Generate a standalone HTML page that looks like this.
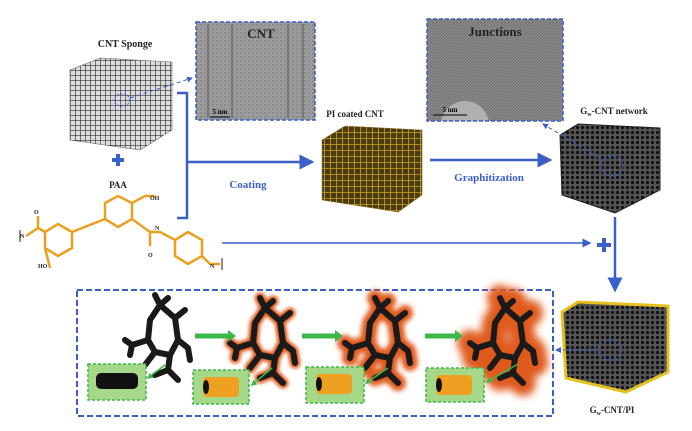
<!DOCTYPE html>
<html><head><style>
html,body{margin:0;padding:0;background:#fff;}
svg{display:block;}
text{font-family:"Liberation Serif",serif;font-weight:bold;}
</style></head><body>
<svg width="692" height="431" viewBox="0 0 692 431" xmlns="http://www.w3.org/2000/svg">
<defs>
<pattern id="gridK" width="5" height="5" patternUnits="userSpaceOnUse"><rect width="5" height="5" fill="#ddd"/><path d="M0 0H5M0 0V5" stroke="#333" stroke-width="1.3"/></pattern>
<pattern id="gridY" width="6" height="6" patternUnits="userSpaceOnUse"><rect width="6" height="6" fill="#4a3c10"/><path d="M0 0H6M0 0V6" stroke="#c9a22a" stroke-width="1.6"/></pattern>
<pattern id="gridD" width="5" height="5" patternUnits="userSpaceOnUse"><rect width="5" height="5" fill="#555"/><circle cx="2.5" cy="2.5" r="1.6" fill="#111"/></pattern>
<pattern id="tem" width="4" height="4" patternUnits="userSpaceOnUse"><rect width="4" height="4" fill="#9a9a9a"/><rect width="2" height="2" fill="#8c8c8c"/></pattern>
<pattern id="temJ" width="3" height="3" patternUnits="userSpaceOnUse"><rect width="3" height="3" fill="#8e8e8e"/><path d="M0 3L3 0" stroke="#6e6e6e" stroke-width="1"/></pattern>
<clipPath id="jclip"><rect x="427" y="19" width="136" height="102"/></clipPath>
<marker id="ah" markerWidth="6" markerHeight="6" refX="5" refY="3" orient="auto"><path d="M0 0L6 3L0 6z" fill="#3a5fc8"/></marker>
<marker id="ahg" markerWidth="4" markerHeight="4" refX="3" refY="2" orient="auto"><path d="M0 0L4 2L0 4z" fill="#3cb84a"/></marker>
<filter id="bl1" x="-1" y="-1" width="3" height="3"><feGaussianBlur stdDeviation="1.5"/></filter>
<filter id="bl2" x="-1" y="-1" width="3" height="3"><feGaussianBlur stdDeviation="2.5"/></filter>
<filter id="bl3" x="-1" y="-1" width="3" height="3"><feGaussianBlur stdDeviation="4"/></filter>
<g id="blob" fill="none" stroke-linecap="round" stroke-linejoin="round">
<path d="M0 -35 L-10 -20 L-12 0 L-5 12 L10 15 L18 0 L15 -22 L0 -35"/>
<path d="M-12 0 L-28 5 L-35 0 M-28 5 L-30 15"/>
<path d="M10 15 L8 30 L18 40 M8 30 L-5 35"/>
<path d="M15 -22 L25 -30 M0 -35 L-5 -45 M0 -35 L8 -42"/>
<path d="M18 0 L28 8 L30 20 M-5 12 L-15 25"/>
</g>
<g id="cyl"><rect x="0" y="0" width="36" height="20" rx="4" fill="#f0a020"/><ellipse cx="3" cy="10" rx="3" ry="7" fill="#111"/></g>
</defs>

<text x="125" y="47" font-size="10" text-anchor="middle" fill="#222">CNT Sponge</text>
<polygon points="70,70 100,58 172,62 172,130 140,150 70,140" fill="url(#gridK)" stroke="#666" stroke-width="0.6"/>
<ellipse cx="122" cy="100" rx="8" ry="6" fill="none" stroke="#3a5fc8" stroke-dasharray="2,1.5"/>
<line x1="130" y1="98" x2="192" y2="78" stroke="#3a5fc8" stroke-dasharray="4,3" marker-end="url(#ah)"/>
<path d="M112 160H124M118 154V166" stroke="#3a5fc8" stroke-width="4"/>
<text x="118" y="188" font-size="9" text-anchor="middle" fill="#222">PAA</text>

<rect x="196" y="22" width="119" height="98" fill="url(#tem)" stroke="#3a5fc8" stroke-width="1.5" stroke-dasharray="4,2"/>
<path d="M208 24V118M232 24V118M288 24V118M303 24V118" stroke="#777" stroke-width="2"/>
<text x="261" y="38" font-size="13" text-anchor="middle" fill="#222">CNT</text>
<line x1="210" y1="117" x2="230" y2="117" stroke="#000"/><text x="220" y="114" font-size="7" text-anchor="middle">5 nm</text>

<rect x="427" y="19" width="136" height="102" fill="url(#temJ)"/>
<circle cx="465" cy="125" r="24" fill="#b0b0b0" clip-path="url(#jclip)"/>
<rect x="427" y="19" width="136" height="102" fill="none" stroke="#3a5fc8" stroke-width="1.5" stroke-dasharray="4,2"/>
<text x="495" y="36" font-size="13" text-anchor="middle" fill="#222">Junctions</text>
<line x1="433" y1="115" x2="467" y2="115" stroke="#000"/><text x="450" y="112" font-size="7" text-anchor="middle">5 nm</text>

<path d="M177 93H187V218H177" fill="none" stroke="#3a5fc8" stroke-width="2.5"/>
<line x1="187" y1="162" x2="312" y2="162" stroke="#3a5fc8" stroke-width="2.5" marker-end="url(#ah)"/>
<text x="248" y="188" font-size="11" text-anchor="middle" fill="#3a5fc8">Coating</text>

<text x="355" y="117" font-size="9" text-anchor="middle" fill="#222">PI coated CNT</text>
<polygon points="322,140 345,126 422,130 422,195 398,212 322,200" fill="url(#gridY)" stroke="#8a7020" stroke-width="0.6"/>

<line x1="430" y1="160" x2="550" y2="160" stroke="#3a5fc8" stroke-width="2.5" marker-end="url(#ah)"/>
<text x="489" y="181" font-size="11" text-anchor="middle" fill="#3a5fc8">Graphitization</text>

<text x="614" y="114" font-size="9" text-anchor="middle" fill="#222">G<tspan font-size="6" dy="2">w</tspan><tspan dy="-2">-CNT network</tspan></text>
<polygon points="560,135 578,124 660,128 660,190 615,213 562,195" fill="url(#gridD)" stroke="#222"/>
<ellipse cx="612" cy="166" rx="11" ry="10" fill="none" stroke="#3a5fc8" stroke-dasharray="3,2"/>
<line x1="600" y1="158" x2="543" y2="124" stroke="#3a5fc8" stroke-dasharray="4,3" marker-end="url(#ah)"/>

<line x1="615" y1="217" x2="615" y2="290" stroke="#3a5fc8" stroke-width="2.5" marker-end="url(#ah)"/>
<line x1="222" y1="243" x2="590" y2="243" stroke="#3a5fc8" stroke-width="1.5" marker-end="url(#ah)"/>
<path d="M597 245H611M604 238V252" stroke="#3a5fc8" stroke-width="4"/>

<polygon points="562,312 578,302 668,306 668,372 626,392 566,378" fill="url(#gridD)" stroke="#e6c020" stroke-width="3"/>
<ellipse cx="610" cy="350" rx="12" ry="10" fill="none" stroke="#3a5fc8" stroke-dasharray="3,2"/>
<line x1="596" y1="350" x2="556" y2="350" stroke="#3a5fc8" stroke-dasharray="3,2" marker-end="url(#ah)"/>
<text x="612" y="413" font-size="9" text-anchor="middle" fill="#222">G<tspan font-size="6" dy="2">w</tspan><tspan dy="-2">-CNT/PI</tspan></text>

<g fill="none" stroke="#e8a020" stroke-width="2.5">
<polygon points="45,232 58,224 72,232 72,248 58,256 45,248"/>
<polygon points="105,203 118,196 132,203 132,219 118,227 105,219"/>
<polygon points="175,240 188,232 202,240 202,256 188,264 175,256"/>
<path d="M72 232L105 219M45 232L38 228L26 236M45 248L50 268M132 203L145 196L155 196M132 219L150 232L150 246M150 232L160 232L175 240M202 256L210 264L220 264M38 228L38 216"/>
</g>
<g font-size="6" fill="#222" font-family="Liberation Serif"><text x="150" y="200">OH</text><text x="155" y="230">N</text><text x="148" y="257">O</text><text x="34" y="214">O</text><text x="38" y="268">HO</text><text x="20" y="238">N</text><text x="210" y="268">N</text></g>
<path d="M20 230V242M222 258V270" stroke="#222"/>

<rect x="77" y="290" width="476" height="126" fill="none" stroke="#3a5fc8" stroke-width="2" stroke-dasharray="6,3"/>
<g transform="translate(160,340)"><use href="#blob" stroke="#1a1a1a" stroke-width="6"/></g>
<g transform="translate(265,343)"><use href="#blob" stroke="#e05a1e" stroke-width="11" filter="url(#bl1)"/><use href="#blob" stroke="#1a1a1a" stroke-width="6"/></g>
<g transform="translate(380,343)"><use href="#blob" stroke="#e05a1e" stroke-width="16" filter="url(#bl2)"/><use href="#blob" stroke="#1a1a1a" stroke-width="6"/></g>
<g transform="translate(505,343)"><use href="#blob" fill="#e05a1e" stroke="#e05a1e" stroke-width="26" filter="url(#bl3)"/><use href="#blob" stroke="#1a1a1a" stroke-width="6"/></g>
<g stroke="#3cb84a" stroke-width="5"><line x1="195" y1="336" x2="228" y2="336"/><line x1="302" y1="336" x2="335" y2="336"/><line x1="425" y1="336" x2="455" y2="336"/></g>
<g fill="#3cb84a"><path d="M228 330L236 336L228 342z"/><path d="M335 330L343 336L335 342z"/><path d="M455 330L463 336L455 342z"/></g>
<g fill="#a6d88a" stroke="#3cb84a" stroke-dasharray="3,2" stroke-width="1.5">
<rect x="88" y="364" width="58" height="36"/><rect x="193" y="370" width="56" height="34"/><rect x="306" y="367" width="58" height="36"/><rect x="426" y="368" width="58" height="34"/>
</g>
<rect x="96" y="373" width="42" height="16" rx="5" fill="#111"/>
<use href="#cyl" x="203" y="377"/>
<use href="#cyl" x="316" y="374"/>
<use href="#cyl" x="436" y="375"/>
<g stroke="#3cb84a" stroke-width="1.5" marker-end="url(#ahg)"><line x1="165" y1="365" x2="148" y2="378"/><line x1="272" y1="368" x2="252" y2="385"/><line x1="388" y1="368" x2="366" y2="383"/><line x1="518" y1="364" x2="487" y2="382"/></g>
</svg>
</body></html>
